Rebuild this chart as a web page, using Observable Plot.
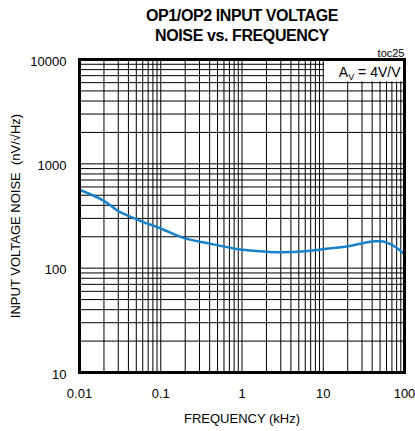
<!DOCTYPE html>
<html>
<head>
<meta charset="utf-8">
<script src="https://cdn.jsdelivr.net/npm/d3@7"></script>
<script src="https://cdn.jsdelivr.net/npm/@observablehq/plot@0.6"></script>
<style>
  body { margin: 0; background: #fff; font-family: "Liberation Sans", Arial, sans-serif; }
  #title { box-sizing: border-box; width: 415px; height: 47px; padding-top: 6px; padding-left: 69px;
           text-align: center; font-weight: bold; font-size: 16px; line-height: 20px; letter-spacing: -0.4px; color: #000; }
  #chart svg { display: block; }
</style>
</head>
<body>
<div id="title"></div>
<div id="chart"></div>
<script>
const titleLines = ["OP1/OP2 INPUT VOLTAGE", "NOISE vs. FREQUENCY"];
const xLabel = "FREQUENCY (kHz)";
const yLabel = "INPUT VOLTAGE NOISE  (nV/√Hz)";
const tocLabel = "toc25";
const gainLabel = "AV = 4V/V";

// curve (kHz, nV/√Hz)
const freqs = [0.01, 0.02, 0.03, 0.045, 0.06, 0.1, 0.19, 0.37, 0.85, 1.5, 3, 6, 10, 20, 35, 45, 55, 67, 80, 100];
const noise = [564, 442, 352, 305, 278, 240, 195, 174, 153, 146, 142, 145, 152, 162, 177, 181, 180, 170, 157, 136];

const xTicks = [0.01, 0.1, 1, 10, 100];
const xTickLabels = ["0.01", "0.1", "1", "10", "100"];
const yTicks = [10, 100, 1000, 10000];
const yTickLabels = ["10", "100", "1000", "10000"];

const xDecades = [0.01, 0.1, 1, 10];
const yDecades = [10, 100, 1000];
const mult = [1, 2, 3, 4, 5, 6, 7, 8, 9];
const xGrid = xDecades.flatMap(d => mult.map(m => +(d * m).toPrecision(3))).concat([100]);
const yGrid = yDecades.flatMap(d => mult.map(m => d * m)).concat([10000]);

// annotation box (data coords)
const gainBox = [{x1: 10.4, x2: 100, y1: 6100, y2: 10000}];

document.getElementById("title").innerHTML = titleLines.join("<br>");

const data = freqs.map((f, i) => ({f, v: noise[i]}));
const xTickTable = xTicks.map((t, i) => ({t, label: xTickLabels[i]}));
const yTickTable = yTicks.map((t, i) => ({t, label: yTickLabels[i]}));

const plot = Plot.plot({
  width: 415,
  height: 384,
  marginLeft: 79,
  marginRight: 11,
  marginTop: 12,
  marginBottom: 59,
  style: {fontFamily: "'Liberation Sans', Arial, sans-serif", fontSize: "13px", color: "#000", background: "#fff", overflow: "visible"},
  x: {type: "log", domain: [0.01, 100], axis: null},
  y: {type: "log", domain: [10, 10000], axis: null},
  marks: [
    Plot.ruleX(xGrid, {stroke: "#000", strokeWidth: 1}),
    Plot.ruleY(yGrid, {stroke: "#000", strokeWidth: 1}),
    Plot.rect(gainBox, {x1: "x1", x2: "x2", y1: "y1", y2: "y2", fill: "#fff"}),
    Plot.line(data, {x: "f", y: "v", curve: "catmull-rom", stroke: "#1782c9", strokeWidth: 2.5}),
    Plot.frame({stroke: "#000", strokeWidth: 3}),
    Plot.text(xTickTable, {x: "t", text: "label", frameAnchor: "bottom", dy: 21, fontSize: 13, lineAnchor: "middle"}),
    Plot.text(yTickTable, {y: "t", text: "label", frameAnchor: "left", dx: -13, dy: 2, fontSize: 13, textAnchor: "end", lineAnchor: "middle"}),
    Plot.text([xLabel], {frameAnchor: "bottom", dy: 46, fontSize: 13, textAnchor: "middle", lineAnchor: "middle"}),
    Plot.text([yLabel], {frameAnchor: "left", rotate: -90, dx: -64, fontSize: 13, textAnchor: "middle", lineAnchor: "middle"}),
    Plot.text([tocLabel], {frameAnchor: "top-right", dy: -3, fontSize: 11, textAnchor: "end", lineAnchor: "bottom"}),
    Plot.text([gainLabel], {frameAnchor: "top-right", dx: -4, dy: 17, fontSize: 14, textAnchor: "end", lineAnchor: "bottom"})
  ]
});

// subscript in gain label
d3.select(plot).selectAll("text").filter(function() { return this.textContent === gainLabel; })
  .each(function() {
    const t = d3.select(this);
    t.text(null);
    t.append("tspan").text("A");
    t.append("tspan").attr("font-size", 9).attr("dy", 3).text("V");
    t.append("tspan").attr("dy", -3).text(" = 4V/V");
  });

document.getElementById("chart").appendChild(plot);
</script>
</body>
</html>
